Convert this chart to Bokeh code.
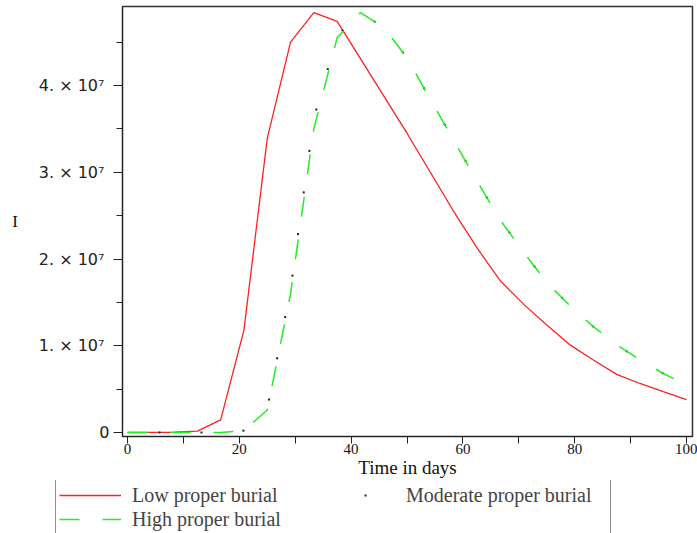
from bokeh.plotting import figure
from bokeh.layouts import column
from bokeh.models import Range1d, FixedTicker, Legend, LegendItem
from bokeh.embed import file_html
from bokeh.resources import INLINE

# ---- data (I in number of individuals) ----
days = [0, 4.17, 8.33, 12.5, 16.67, 20.83, 25, 29.17, 33.33, 37.5, 41.67, 45.83,
        50, 54.17, 58.33, 62.5, 66.67, 70.83, 75, 79.17, 83.33, 87.5, 91.67, 95.83, 100]
low_burial = [0, 0.002e7, 0.003e7, 0.015e7, 0.146e7, 1.18e7, 3.39e7, 4.50e7, 4.84e7, 4.74e7,
              4.31e7, 3.88e7, 3.45e7, 3.00e7, 2.55e7, 2.13e7, 1.75e7, 1.48e7, 1.24e7,
              1.01e7, 0.835e7, 0.67e7, 0.565e7, 0.47e7, 0.38e7]
moderate_burial = [0, 0, 0, 0, 0.001e7, 0.022e7, 0.27e7, 1.65e7, 3.62e7, 4.57e7, 4.84e7,
                   4.67e7, 4.32e7, 3.84e7, 3.37e7, 2.90e7, 2.45e7, 2.08e7, 1.73e7, 1.46e7,
                   1.22e7, 1.01e7, 0.84e7, 0.68e7, 0.55e7]
high_burial = [0, 0, 0, 0, 0.001e7, 0.022e7, 0.26e7, 1.60e7, 3.50e7, 4.55e7, 4.84e7,
               4.67e7, 4.32e7, 3.84e7, 3.37e7, 2.90e7, 2.45e7, 2.08e7, 1.73e7, 1.46e7,
               1.22e7, 1.01e7, 0.84e7, 0.68e7, 0.55e7]

x_major = [0, 20, 40, 60, 80, 100]
x_minor = [10, 30, 50, 70, 90]
y_major = [0, 10000000, 20000000, 30000000, 40000000]
y_major_labels = ["0", "1.  × 10⁷", "2.  × 10⁷", "3.  × 10⁷", "4.  × 10⁷"]
y_minor = [5000000, 15000000, 25000000, 35000000, 45000000]

series_names = ["Low proper burial", "Moderate proper burial", "High proper burial"]
series_colors = ["#ff2020", "#222222", "#22ee22"]
series_widths = [1.3, 2, 1.5]
series_dash = ["solid", "2 40", "20 23"]
series_dash_offset = [0, -31, 0]

p = figure(width=697, height=480, output_backend="svg", toolbar_location=None,
           x_range=Range1d(-0.894, 101.07), y_range=Range1d(-0.0461e7, 4.9107e7))
p.frame_align = False
p.min_border_left = 122
p.min_border_right = 5
p.min_border_top = 6
p.min_border_bottom = 44
p.xgrid.visible = False
p.ygrid.visible = False
p.outline_line_color = "#333333"
p.outline_line_width = 1.5

for ys, c, w, d, o in zip([low_burial, moderate_burial, high_burial], series_colors,
                          series_widths, series_dash, series_dash_offset):
    p.line(days, ys, line_color=c, line_width=w, line_dash=d, line_dash_offset=o)

# x axis
xa = p.xaxis[0]
xa.ticker = FixedTicker(ticks=x_major, minor_ticks=x_minor)
xa.major_tick_out = 7
xa.major_tick_in = 0
xa.minor_tick_out = 7
xa.minor_tick_in = 0
xa.axis_line_color = "#222222"
xa.major_tick_line_color = "#222222"
xa.minor_tick_line_color = "#222222"
xa.major_label_text_font = "Liberation Serif"
xa.major_label_text_font_size = "15px"
xa.major_label_text_color = "#111111"
xa.major_label_standoff = 0
xa.axis_label = "Time in days"
xa.axis_label_text_font = "Liberation Serif"
xa.axis_label_text_font_style = "normal"
xa.axis_label_text_font_size = "19px"
xa.axis_label_text_color = "#111111"
xa.axis_label_standoff = 0

# y axis
ya = p.yaxis[0]
ya.ticker = FixedTicker(ticks=y_major, minor_ticks=y_minor)
ya.major_label_overrides = dict(zip(y_major, y_major_labels))
ya.major_tick_out = 9
ya.major_tick_in = 0
ya.minor_tick_out = 6
ya.minor_tick_in = 0
ya.axis_line_color = "#222222"
ya.major_tick_line_color = "#222222"
ya.minor_tick_line_color = "#222222"
ya.major_label_text_font = "DejaVu Sans"
ya.major_label_text_font_size = "16px"
ya.major_label_text_color = "#222222"
ya.major_label_standoff = 4
ya.axis_label = "I"
ya.axis_label_orientation = "horizontal"
ya.axis_label_text_font = "Liberation Serif"
ya.axis_label_text_font_style = "normal"
ya.axis_label_text_font_size = "17px"
ya.axis_label_text_color = "#111111"
ya.axis_label_standoff = 18

# ---- legend strip below the plot ----
lf = figure(width=697, height=53, output_backend="svg", toolbar_location=None,
            x_range=Range1d(0, 1), y_range=Range1d(0, 1),
            x_axis_location=None, y_axis_location=None, min_border=0)
lf.frame_align = False
lf.min_border_left = 0
lf.min_border_right = 0
lf.min_border_top = 0
lf.min_border_bottom = 0
lf.xgrid.visible = False
lf.ygrid.visible = False
lf.outline_line_color = None
legend_renderers = []
for c, w, d, o in zip(series_colors, series_widths, series_dash, series_dash_offset):
    legend_renderers.append(lf.line(x=[float("nan")], y=[float("nan")], line_color=c,
                                    line_width=w, line_dash=d, line_dash_offset=o))

legend = Legend(items=[LegendItem(label=n, renderers=[r])
                       for n, r in zip(series_names, legend_renderers)],
                orientation="horizontal", ncols=2,
                location=(55, -2), margin=0, padding=3, spacing=0,
                glyph_width=62, glyph_height=24, label_height=24,
                label_standoff=11, label_width=201,
                label_text_font="Liberation Serif", label_text_font_size="20px",
                border_line_color="#222222", border_line_width=1.5,
                background_fill_alpha=1.0)
lf.add_layout(legend, "center")

layout = column(p, lf, spacing=0)
open("out.html", "w").write(file_html(layout, INLINE))
